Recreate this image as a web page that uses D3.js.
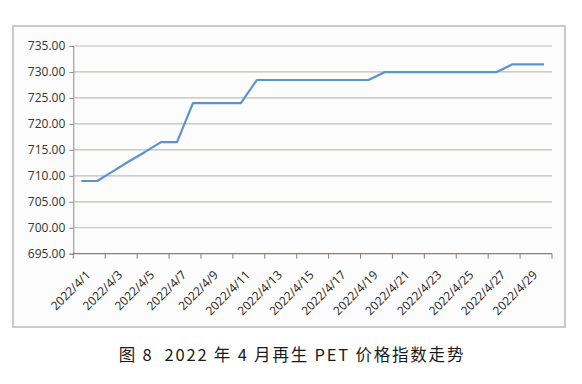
<!DOCTYPE html>
<html>
<head>
<meta charset="utf-8">
<script src="https://cdn.jsdelivr.net/npm/d3@7"></script>
<style>
  body { margin: 0; background: #fff; }
  svg { display: block; }
</style>
</head>
<body>
<svg id="chart" width="582" height="384"></svg>
<script>
// April 2022 daily dates
const dates = [
    "2022/4/1", "2022/4/2", "2022/4/3", "2022/4/4", "2022/4/5", "2022/4/6",
    "2022/4/7", "2022/4/8", "2022/4/9", "2022/4/10", "2022/4/11", "2022/4/12",
    "2022/4/13", "2022/4/14", "2022/4/15", "2022/4/16", "2022/4/17", "2022/4/18",
    "2022/4/19", "2022/4/20", "2022/4/21", "2022/4/22", "2022/4/23", "2022/4/24",
    "2022/4/25", "2022/4/26", "2022/4/27", "2022/4/28", "2022/4/29", "2022/4/30"
];

// recycled PET price index
const priceIndex = [
    709.0, 709.0, 710.9, 712.8, 714.6, 716.5,
    716.5, 724.0, 724.0, 724.0, 724.0, 728.45,
    728.45, 728.45, 728.45, 728.45, 728.45, 728.45,
    728.45, 729.95, 729.95, 729.95, 729.95, 729.95,
    729.95, 729.95, 729.95, 731.45, 731.45, 731.45
];

const yTicks = [695, 700, 705, 710, 715, 720, 725, 730, 735];

const titleText = "图 8  2022 年 4 月再生 PET 价格指数走势";

const svg = d3.select("#chart");

const plotLeft = 73.3;
const plotRight = 552;
const plotTop = 46;
const plotBottom = 253.7;

// chart frame
svg.append("rect")
    .attr("x", 13)
    .attr("y", 26)
    .attr("width", 552)
    .attr("height", 301)
    .attr("fill", "#fcfcfc")
    .attr("stroke", "#cacaca")
    .attr("stroke-width", 2);

const xScale = d3.scaleBand()
    .domain(dates)
    .range([plotLeft, plotRight])
    .padding(0);

const yScale = d3.scaleLinear()
    .domain([695, 735])
    .range([plotBottom, plotTop]);

// horizontal grid lines
svg.append("g")
    .selectAll("line")
    .data(yTicks.filter(d => d !== 695))
    .enter().append("line")
    .attr("x1", plotLeft)
    .attr("x2", plotRight)
    .attr("y1", d => yScale(d))
    .attr("y2", d => yScale(d))
    .attr("stroke", "#c4bdb6")
    .attr("stroke-width", 1.2);

// y axis
const yAxis = d3.axisLeft(yScale)
    .tickValues(yTicks)
    .tickSize(4)
    .tickFormat(d3.format(".2f"));

const yG = svg.append("g")
    .attr("transform", `translate(${plotLeft},0)`)
    .call(yAxis);
yG.select(".domain").attr("stroke", "#8c8c8c");
yG.selectAll(".tick line").attr("stroke", "#8c8c8c");
yG.selectAll("text")
    .attr("x", -8)
    .attr("fill", "#333")
    .style("font-family", "'Open Sans', sans-serif")
    .style("font-size", "12px");

// x axis: ticks at every other category boundary
const step = xScale.step();
const boundaryTicks = d3.range(0, dates.length + 1, 2);

const xG = svg.append("g");
xG.append("line")
    .attr("x1", plotLeft)
    .attr("x2", plotRight)
    .attr("y1", plotBottom)
    .attr("y2", plotBottom)
    .attr("stroke", "#8a7f76")
    .attr("stroke-width", 1.2);
xG.selectAll(".xtick")
    .data(boundaryTicks)
    .enter().append("line")
    .attr("class", "xtick")
    .attr("x1", d => plotLeft + d * step)
    .attr("x2", d => plotLeft + d * step)
    .attr("y1", plotBottom)
    .attr("y2", plotBottom + 5)
    .attr("stroke", "#8a7f76");

xG.selectAll(".xlabel")
    .data(dates.filter((d, i) => i % 2 === 0))
    .enter().append("text")
    .attr("class", "xlabel")
    .attr("transform", d => `translate(${xScale(d) + xScale.bandwidth() / 2 + 10},${plotBottom + 22}) rotate(-45)`)
    .attr("text-anchor", "end")
    .attr("fill", "#222")
    .style("font-family", "'Open Sans', sans-serif")
    .style("font-size", "12px")
    .text(d => d);

// price line
const line = d3.line()
    .x((d, i) => xScale(dates[i]) + xScale.bandwidth() / 2)
    .y(d => yScale(d));

svg.append("path")
    .datum(priceIndex)
    .attr("d", line)
    .attr("fill", "none")
    .attr("stroke", "#5b93cf")
    .attr("stroke-width", 2.2)
    .attr("stroke-linejoin", "round");

// caption
svg.append("text")
    .attr("x", 292)
    .attr("y", 361)
    .attr("text-anchor", "middle")
    .attr("fill", "#1a1a1a")
    .style("font-family", "'Noto Sans CJK SC', sans-serif")
    .style("font-size", "16.5px")
    .style("letter-spacing", "1.8px")
    .style("white-space", "pre")
    .text(titleText);
</script>
</body>
</html>
